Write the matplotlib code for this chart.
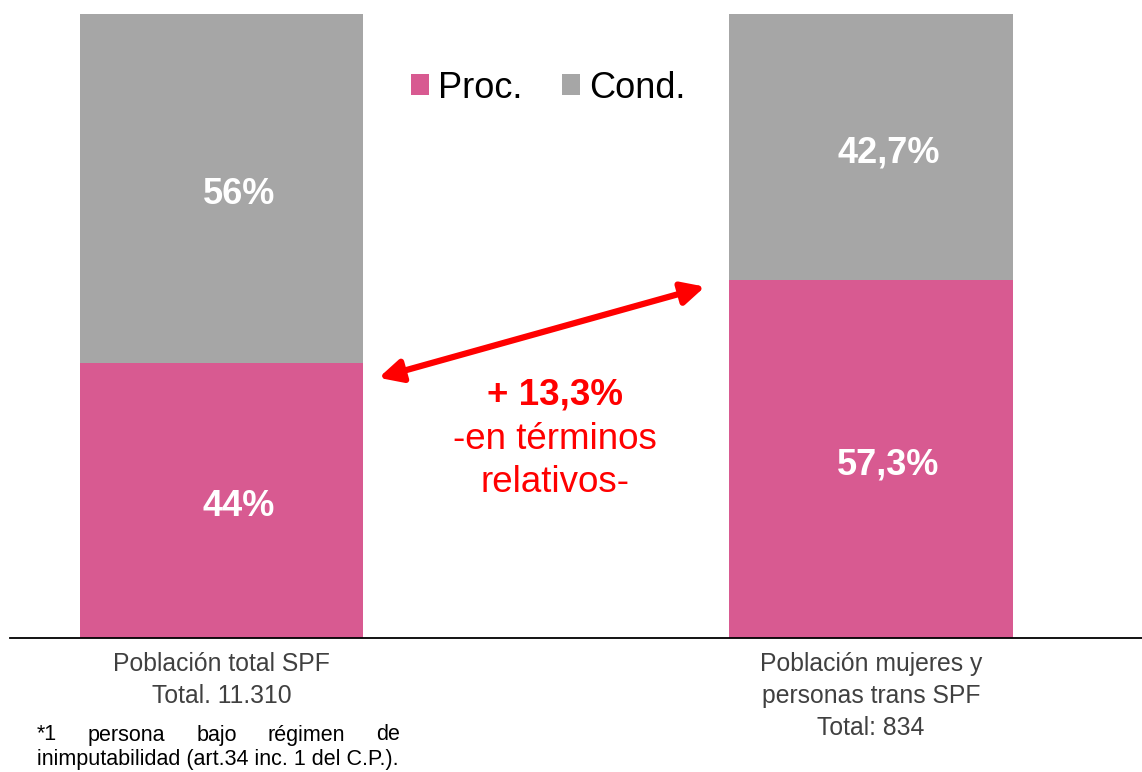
import numpy as np
import matplotlib.pyplot as plt

plt.rcParams['font.family'] = ['Liberation Sans', 'DejaVu Sans']

# datos
categorias = ['Población total SPF\nTotal. 11.310',
              'Población mujeres y\npersonas trans SPF\nTotal: 834']
proc = [44, 57.3]
cond = [56, 42.7]
etq_proc = ['44%', '57,3%']
etq_cond = ['56%', '42,7%']
series = ['Proc.', 'Cond.']
colores = ['#D85A91', '#A6A6A6']
nota_l1 = ['*1', 'persona', 'bajo', 'régimen', 'de']
nota_l2 = 'inimputabilidad (art.34 inc. 1 del C.P.).'

fig = plt.figure(figsize=(11.42, 7.72), dpi=100)
ax = fig.add_axes([10 / 1142, 134 / 772, 1132 / 1142, 624 / 772])

x = np.arange(len(categorias))
ancho = 0.436
b1 = ax.bar(x, proc, ancho, color=colores[0], label=series[0])
b2 = ax.bar(x, cond, ancho, bottom=proc, color=colores[1], label=series[1])

# las etiquetas quedan algo corridas a la derecha y abajo, como en el original
dx, dy = 0.027, -1.0
for i in range(len(x)):
    ax.text(x[i] + dx, proc[i] / 2 + dy, etq_proc[i], ha='center', va='center',
            color='white', fontsize=26, fontweight='bold')
    ax.text(x[i] + dx, proc[i] + cond[i] / 2 + dy, etq_cond[i], ha='center',
            va='center', color='white', fontsize=26, fontweight='bold')

ax.set_xlim(-0.3256, 1.4172)
ax.set_ylim(0, 100)
ax.set_xticks([])
ax.set_yticks([])
for s in ['top', 'left', 'right']:
    ax.spines[s].set_visible(False)
ax.spines['bottom'].set_linewidth(1.3)

# etiquetas de categoria
for i, cat in enumerate(categorias):
    ax.text(x[i], -2.2, cat, ha='center', va='top', fontsize=17.8,
            color='#404040', linespacing=1.42)

# flecha y diferencia
ax.annotate('', xy=(0.7444, 56.3), xytext=(0.2420, 41.7),
            arrowprops=dict(arrowstyle='<|-|>', color='#FF0000', lw=4.5,
                            mutation_scale=34, shrinkA=0, shrinkB=0))
ax.text(0.5135, 38.9, '+ 13,3%', ha='center', va='center', color='#FF0000',
        fontsize=26.5, fontweight='bold')
ax.text(0.5135, 31.8, '-en términos', ha='center', va='center',
        color='#FF0000', fontsize=26.5)
ax.text(0.5135, 24.9, 'relativos-', ha='center', va='center',
        color='#FF0000', fontsize=26.5)

fig.legend(handles=[b1, b2], loc='center', bbox_to_anchor=(548 / 1142, 1 - 88 / 772),
           ncol=2, frameon=False, fontsize=26, handlelength=0.5,
           handleheight=0.5, handletextpad=0.25, columnspacing=1.1)

# nota al pie, justificada
izq, der = 37 / 1142, 400 / 1142
y1, y2 = 1 - 735 / 772, 1 - 760 / 772
fig.text(izq, y2, nota_l2, ha='left', va='center', fontsize=15.5, color='black')
fig.canvas.draw()
r = fig.canvas.get_renderer()
textos = [fig.text(0, y1, p, ha='left', va='center', fontsize=15.5, color='black')
          for p in nota_l1]
anchos = [t.get_window_extent(r).width / fig.bbox.width for t in textos]
hueco = (der - izq - sum(anchos)) / (len(textos) - 1)
pos = izq
for t, w in zip(textos, anchos):
    t.set_x(pos)
    pos += w + hueco

fig.savefig('out.png', dpi=100)
